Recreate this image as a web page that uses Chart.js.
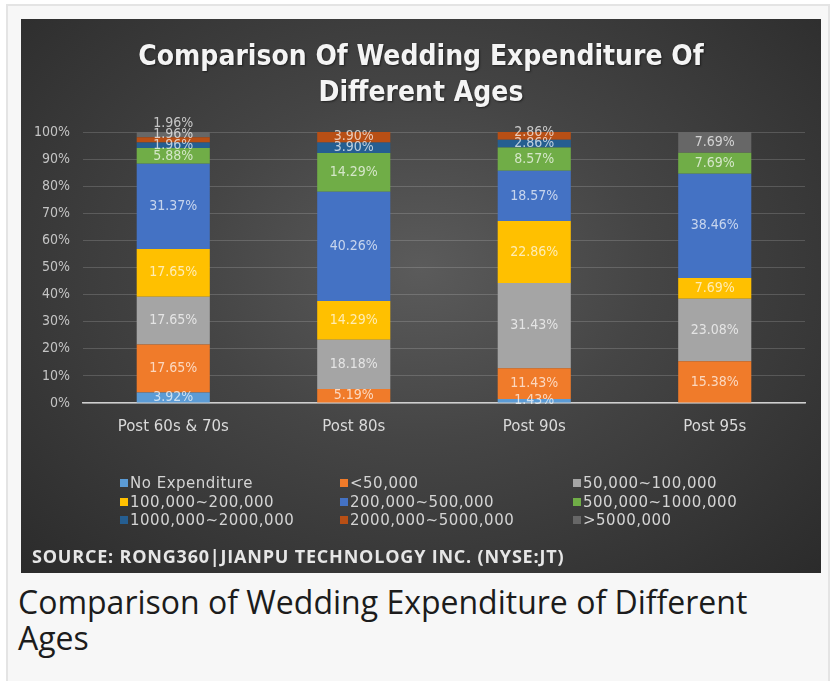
<!DOCTYPE html>
<html>
<head>
<meta charset="utf-8">
<script src="https://cdn.jsdelivr.net/npm/chart.js@4"></script>
<style>
  body { margin: 0; background: #fff; }
  .frame {
    position: absolute; left: 6px; top: 4px; width: 824px; height: 680px;
    background: #f7f7f7; border: 2px solid #e4e4e4; box-sizing: border-box;
  }
  .panel {
    position: absolute; left: 21px; top: 19px; width: 800px; height: 554px;
    background: radial-gradient(ellipse at 50% 45%, #5b5b5b 0%, #454545 40%, #2b2b2b 100%);
  }
  .panel canvas { position: absolute; left: 0; top: 0; }
  .title {
    position: absolute; left: 0; top: 19px; width: 800px; text-align: center;
    color: #f4f4f4; font: bold 28px "DejaVu Sans Condensed", sans-serif;
    line-height: 36px; text-shadow: 1px 1px 2px rgba(0,0,0,0.5);
  }
  .legend { position: absolute; left: 0; top: 455px; width: 800px; }
  .legend .item {
    position: absolute; color: #d4d4d4; font: 15px "DejaVu Sans", sans-serif;
    letter-spacing: 0.5px; white-space: nowrap; line-height: 18px;
  }
  .legend .box { display: inline-block; width: 8px; height: 8px; margin-right: 2px; vertical-align: 1px; }
  .source {
    position: absolute; left: 11px; top: 525px; color: #e6e6e6;
    font: bold 18px "Open Sans", sans-serif; letter-spacing: 0.8px; white-space: nowrap;
  }
  .caption {
    position: absolute; left: 18px; top: 584px; color: #1c1c1c;
    font: 32px "Open Sans", sans-serif; line-height: 36px;
  }
</style>
</head>
<body>
<div class="frame"></div>
<div class="panel">
  <canvas id="chart" width="800" height="554"></canvas>
  <div class="title">Comparison Of Wedding Expenditure Of<br>Different Ages</div>
  <div class="legend" id="legend"></div>
  <div class="source">SOURCE: RONG360|JIANPU TECHNOLOGY INC. (NYSE:JT)</div>
</div>
<div class="caption">Comparison of Wedding Expenditure of Different<br>Ages</div>

<script>
const ageGroups = ["Post 60s & 70s", "Post 80s", "Post 90s", "Post 95s"];
const brackets = [
  "No Expenditure", "<50,000", "50,000~100,000",
  "100,000~200,000", "200,000~500,000", "500,000~1000,000",
  "1000,000~2000,000", "2000,000~5000,000", ">5000,000"
];
// one array per spending bracket, values per age group (%)
const noExpenditure = [3.92, 0, 1.43, 0];
const under50k = [17.65, 5.19, 11.43, 15.38];
const from50kTo100k = [17.65, 18.18, 31.43, 23.08];
const from100kTo200k = [17.65, 14.29, 22.86, 7.69];
const from200kTo500k = [31.37, 40.26, 18.57, 38.46];
const from500kTo1m = [5.88, 14.29, 8.57, 7.69];
const from1mTo2m = [1.96, 3.90, 2.86, 0];
const from2mTo5m = [1.96, 3.90, 2.86, 0];
const over5m = [1.96, 0, 0, 7.69];
const yTicks = [0, 10, 20, 30, 40, 50, 60, 70, 80, 90, 100];

const seriesValues = [noExpenditure, under50k, from50kTo100k, from100kTo200k,
  from200kTo500k, from500kTo1m, from1mTo2m, from2mTo5m, over5m];
const colors = ["#5b9bd5", "#f07b2a", "#a5a5a5", "#ffc000", "#4472c4",
  "#70ad47", "#255e91", "#b84f15", "#676767"];

// labels centred in each segment, nudged up when they would collide
const segmentLabels = {
  id: "segmentLabels",
  afterDatasetsDraw(chart) {
    const ctx = chart.ctx;
    ctx.save();
    ctx.font = "14px 'DejaVu Sans Condensed', 'DejaVu Sans', sans-serif";
    ctx.textAlign = "center";
    ctx.textBaseline = "middle";
    ctx.fillStyle = "rgba(255,255,255,0.7)";
    ageGroups.forEach((_, i) => {
      let prev = null;
      chart.data.datasets.forEach((ds, d) => {
        const v = ds.data[i];
        if (!v) return;
        const bar = chart.getDatasetMeta(d).data[i];
        let y = (bar.y + bar.base) / 2;
        if (prev !== null && prev - y < 11) y = prev - 11;
        prev = y;
        ctx.fillText(v.toFixed(2) + "%", bar.x, y);
      });
    });
    ctx.restore();
  }
};

const chart = new Chart(document.getElementById("chart"), {
  type: "bar",
  data: {
    labels: ageGroups,
    datasets: brackets.map((name, k) => ({
      label: name,
      data: seriesValues[k],
      backgroundColor: colors[k],
      borderWidth: 0,
      categoryPercentage: 1,
      barPercentage: 0.405,
    })),
  },
  options: {
    responsive: false,
    animation: false,
    layout: { padding: { left: 0, right: 16, top: 113, bottom: 140 } },
    plugins: { legend: { display: false }, tooltip: { enabled: false } },
    scales: {
      x: {
        stacked: true,
        grid: { display: false },
        border: { color: "#cfcfcf", width: 1.5 },
        ticks: { color: "#dadada", font: { size: 15, family: "DejaVu Sans" }, padding: 7 },
        afterFit(scale) { scale.height = 30; },
      },
      y: {
        stacked: true,
        min: 0,
        max: 100,
        afterBuildTicks(scale) { scale.ticks = yTicks.map((v) => ({ value: v })); },
        ticks: {
          color: "#c4c4c4",
          font: { size: 14, family: "DejaVu Sans Condensed" },
          padding: 13,
          callback: (v) => v + "%",
        },
        grid: { color: "rgba(255,255,255,0.16)", drawTicks: false },
        border: { display: false },
        afterFit(scale) { scale.width = 62; },
      },
    },
  },
  plugins: [segmentLabels],
});

// legend in three columns, like the original
const legendEl = document.getElementById("legend");
const colX = [99, 319, 552];
const rowY = [0, 19, 37];
chart.data.datasets.forEach((ds, k) => {
  const item = document.createElement("div");
  item.className = "item";
  item.style.left = colX[k % 3] + "px";
  item.style.top = rowY[Math.floor(k / 3)] + "px";
  item.innerHTML = '<span class="box" style="background:' + ds.backgroundColor + '"></span>';
  item.appendChild(document.createTextNode(ds.label));
  legendEl.appendChild(item);
});
</script>
</body>
</html>
